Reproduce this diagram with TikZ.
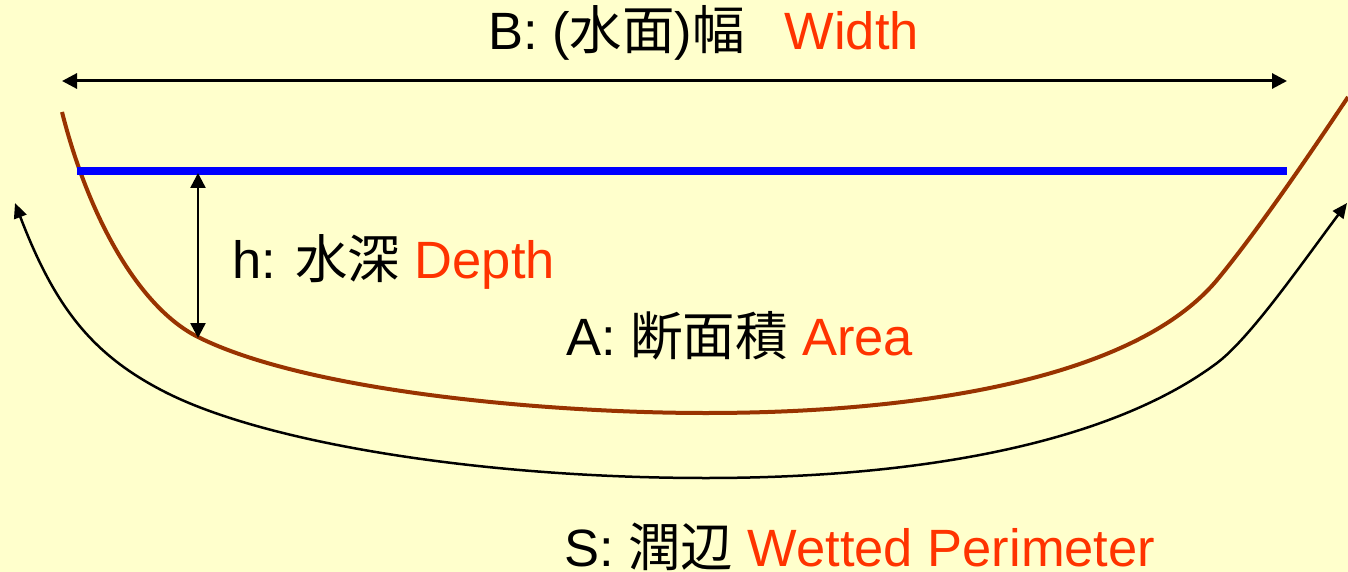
\documentclass[tikz,border=0pt]{standalone}
\usepackage{fontspec}
\setmainfont{Liberation Sans}
\newfontfamily\cjk{Noto Sans CJK JP}
\usetikzlibrary{arrows.meta}
\definecolor{bgyellow}{HTML}{FFFFCC}
\definecolor{bankbrown}{HTML}{993300}
\definecolor{waterblue}{HTML}{0000FF}
\definecolor{labelred}{HTML}{FF3300}
\tikzset{
  lbl/.style={anchor=base west, inner sep=0pt, outer sep=0pt, font=\fontsize{52.5}{60}\selectfont},
  bank/.style={draw=bankbrown, line width=4pt},
  water/.style={draw=waterblue, line width=8pt},
  dimarrow/.style={draw=black, line width=3pt, {Triangle[length=15pt,width=15pt]}-{Triangle[length=15pt,width=15pt]}},
  deptharrow/.style={draw=black, line width=2.5pt, {Triangle[length=15pt,width=15pt]}-{Triangle[length=15pt,width=15pt]}},
  perimarrow/.style={draw=black, line width=2.5pt, {Triangle[length=15pt,width=13pt]}-{Triangle[length=15pt,width=13pt]}},
}
\begin{document}
\begin{tikzpicture}[x=1pt,y=-1pt]
  \fill[bgyellow] (0,0) rectangle (1348,572);
  \useasboundingbox (0,0) rectangle (1348,572);
  % coordinates
  \coordinate (bL) at (62,81);
  \coordinate (bR) at (1287,81);
  \coordinate (wL) at (77,171.5);
  \coordinate (wR) at (1287,171.5);
  \coordinate (hT) at (198,173);
  \coordinate (hB) at (198,338);
  \coordinate (sL) at (15,203);
  \coordinate (sR) at (1347,203);
  % channel bank
  \draw[bank] (62,112) .. controls (88,215) and (138,307) .. (198,337)
              .. controls (308,392) and (550,413) .. (706,413)
              .. controls (900,413) and (1130,384) .. (1217,280)
              .. controls (1260,228) and (1318,142) .. (1348,97);
  % water surface
  \draw[water] (wL) -- (wR);
  % width arrow
  \draw[dimarrow] (bL) -- (bR);
  % depth arrow
  \draw[deptharrow] (hT) -- (hB);
  % wetted perimeter arrow
  \draw[perimarrow] (sL) .. controls (55.5,309) and (93.5,356) .. (167,393)
              .. controls (269,444) and (485,478) .. (706,478)
              .. controls (921,478) and (1110,443) .. (1217,363)
              .. controls (1250,338) and (1300,266) .. (sR);
  % labels
  \node[lbl] (tB) at (488,50) {B: ({\cjk 水面}){\cjk 幅}\hspace*{40pt}\textcolor{labelred}{Width}};
  \node[lbl] (tH) at (232,278) {h: {\cjk 水深} \textcolor{labelred}{Depth}};
  \node[lbl] (tA) at (566,355) {A: {\cjk 断面積} \textcolor{labelred}{Area}};
  \node[lbl] (tS) at (564,566) {S: {\cjk 潤辺} \textcolor{labelred}{Wetted Perimeter}};
\end{tikzpicture}
\end{document}
